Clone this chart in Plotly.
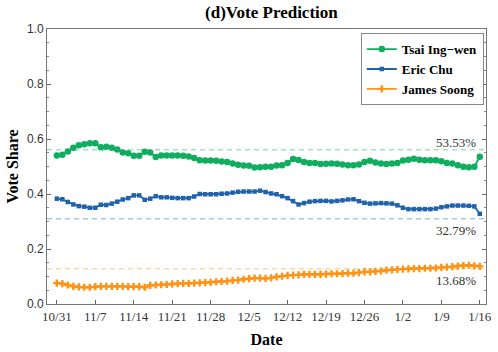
import plotly.graph_objects as go
import pandas as pd

dates = pd.date_range("2015-10-31", "2016-01-16", freq="D")

tsai = [0.540, 0.543, 0.555, 0.568, 0.577, 0.581, 0.585, 0.585, 0.570, 0.572,
        0.568, 0.562, 0.551, 0.548, 0.539, 0.539, 0.554, 0.551, 0.535, 0.540,
        0.540, 0.540, 0.540, 0.539, 0.536, 0.531, 0.523, 0.522, 0.522, 0.521,
        0.518, 0.516, 0.511, 0.506, 0.504, 0.503, 0.496, 0.497, 0.499, 0.499,
        0.504, 0.505, 0.513, 0.527, 0.524, 0.516, 0.513, 0.513, 0.509, 0.510,
        0.511, 0.510, 0.507, 0.505, 0.505, 0.507, 0.516, 0.521, 0.515, 0.511,
        0.509, 0.511, 0.513, 0.522, 0.525, 0.528, 0.525, 0.523, 0.523, 0.523,
        0.519, 0.513, 0.511, 0.505, 0.499, 0.497, 0.499, 0.5353]

chu = [0.383, 0.381, 0.371, 0.362, 0.356, 0.354, 0.350, 0.350, 0.361, 0.360,
       0.365, 0.372, 0.380, 0.385, 0.395, 0.395, 0.379, 0.383, 0.392, 0.388,
       0.388, 0.386, 0.385, 0.385, 0.385, 0.391, 0.400, 0.399, 0.399, 0.399,
       0.401, 0.402, 0.405, 0.408, 0.409, 0.409, 0.409, 0.412, 0.407, 0.402,
       0.399, 0.392, 0.385, 0.374, 0.362, 0.367, 0.372, 0.374, 0.375, 0.375,
       0.373, 0.375, 0.377, 0.380, 0.381, 0.374, 0.368, 0.365, 0.366, 0.367,
       0.366, 0.365, 0.359, 0.350, 0.345, 0.345, 0.345, 0.345, 0.345, 0.347,
       0.352, 0.355, 0.358, 0.358, 0.358, 0.357, 0.355, 0.3279]

soong = [0.076, 0.074, 0.069, 0.064, 0.062, 0.061, 0.061, 0.063, 0.064, 0.064,
         0.064, 0.064, 0.064, 0.063, 0.063, 0.063, 0.061, 0.068, 0.069, 0.070,
         0.071, 0.073, 0.074, 0.075, 0.075, 0.076, 0.077, 0.078, 0.079, 0.081,
         0.082, 0.083, 0.086, 0.087, 0.090, 0.092, 0.094, 0.094, 0.093, 0.095,
         0.099, 0.101, 0.104, 0.105, 0.106, 0.108, 0.108, 0.108, 0.108, 0.109,
         0.110, 0.110, 0.111, 0.112, 0.112, 0.114, 0.117, 0.117, 0.119, 0.120,
         0.123, 0.124, 0.126, 0.127, 0.128, 0.129, 0.129, 0.130, 0.130, 0.131,
         0.133, 0.134, 0.136, 0.138, 0.140, 0.141, 0.139, 0.1368]

names = ["Tsai Ing\u2212wen", "Eric Chu", "James Soong"]
actual = [0.5612, 0.3104, 0.1284]
colors = ["#0fae5f", "#1f63ad", "#ff9314"]
light = ["#9fe3c3", "#a9c7e6", "#ffd6a6"]
symbols = ["circle", "square", "cross"]
sizes = [6.5, 4.5, 6]

serif = "Liberation Serif, Times New Roman, serif"

fig = go.Figure()

for name, vals, c, lc, a, sym, sz in zip(names, [tsai, chu, soong], colors, light, actual, symbols, sizes):
    fig.add_shape(type="line", xref="paper", x0=0, x1=1, yref="y", y0=a, y1=a,
                  line=dict(color=lc, width=1.5, dash="5px,4px"), layer="below")
    fig.add_trace(go.Scatter(
        x=dates, y=vals, name=f"<b>{name}</b>", mode="lines+markers",
        line=dict(color=c, width=1.8),
        marker=dict(symbol=sym, size=sz, color=c),
    ))

# final prediction labels
label_font = dict(family=serif, size=13, color="#333")
fig.add_annotation(x=dates[-1], y=actual[0], text=f"{tsai[-1]*100:.2f}%", showarrow=False,
                   xanchor="right", yanchor="bottom", xshift=-2, yshift=-2, font=label_font)
fig.add_annotation(x=dates[-1], y=actual[1], text=f"{chu[-1]*100:.2f}%", showarrow=False,
                   xanchor="right", yanchor="top", xshift=-2, yshift=-2, font=label_font)
fig.add_annotation(x=dates[-1], y=actual[2], text=f"{soong[-1]*100:.2f}%", showarrow=False,
                   xanchor="right", yanchor="top", xshift=-2, yshift=-2, font=label_font)

tick_dates = pd.date_range("2015-10-31", "2016-01-16", freq="7D")

fig.update_layout(
    width=498, height=352,
    margin=dict(l=47, r=6, t=29, b=47),
    paper_bgcolor="white", plot_bgcolor="white",
    title=dict(text="<b>(d)Vote Prediction</b>", x=0.545, xanchor="center",
               y=0.966, yanchor="middle",
               font=dict(family=serif, size=17, color="black")),
    font=dict(family=serif, size=13, color="#333"),
    showlegend=True,
    legend=dict(x=0.995, y=0.985, xanchor="right", yanchor="top",
                bordercolor="#888", borderwidth=1, bgcolor="white",
                font=dict(family=serif, size=13, color="black"),
                tracegroupgap=0, itemwidth=30),
    xaxis=dict(
        range=["2015-10-29 05:00", "2016-01-17 03:00"],
        tickvals=tick_dates, ticktext=[f"{d.month}/{d.day}" for d in tick_dates],
        ticks="inside", ticklen=4, tickcolor="#666",
        showline=True, linecolor="#777", mirror=True, showgrid=False, zeroline=False,
        title=dict(text="<b>Date</b>", font=dict(family=serif, size=16, color="black"), standoff=11),
        tickfont=dict(family=serif, size=13, color="#333"),
    ),
    yaxis=dict(
        range=[0, 1], tickvals=[0, 0.2, 0.4, 0.6, 0.8, 1.0],
        ticktext=["0.0", "0.2", "0.4", "0.6", "0.8", "1.0"],
        ticks="inside", ticklen=4, tickcolor="#666",
        minor=dict(dtick=0.05, ticks="inside", ticklen=2, tickcolor="#888"),
        showline=True, linecolor="#777", mirror="ticks", showgrid=False, zeroline=False,
        title=dict(text="<b>Vote Share</b>", font=dict(family=serif, size=16, color="black"), standoff=4),
        tickfont=dict(family="Liberation Sans, Arial, sans-serif", size=12, color="#333"),
    ),
)

fig.write_html("out.html", config={"displayModeBar": False},
               post_script="document.body.style.margin='0';")
